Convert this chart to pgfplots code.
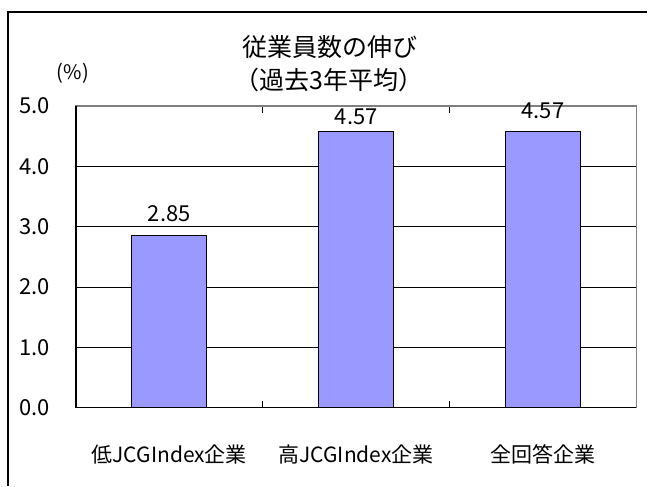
\documentclass[border=0pt]{standalone}
\usepackage{fontspec}
\setmainfont{Noto Sans CJK JP}
\usepackage{pgfplots}
\pgfplotsset{compat=1.18}
\definecolor{barfill}{HTML}{9999FF}
\definecolor{frame}{HTML}{808080}
\begin{document}
\begin{tikzpicture}
\begin{axis}[
  scale only axis,
  width=561bp, height=302bp,
  xmin=-0.5, xmax=2.5, ymin=0, ymax=5,
  clip=false,
  axis line style={draw=frame, line width=1.3bp},
  xtick={0,1,2},
  xticklabels={低JCGIndex企業,高JCGIndex企業,全回答企業},
  major x tick style={draw=none},
  minor xtick={0.5,1.5},
  minor x tick style={black, line width=0.6bp},
  minor tick length=7bp,
  ytick={0,1,2,3,4,5},
  tick align=inside,
  major tick length=7bp,
  y tick style={black, line width=0.8bp},
  ymajorgrids,
  major grid style={black, line width=0.7bp},
  xticklabel style={font=\fontsize{21bp}{24bp}\selectfont, anchor=center, yshift=-47bp},
  yticklabel style={font=\fontsize{22bp}{24bp}\selectfont, anchor=east, inner sep=0pt, xshift=-26bp},
  /pgf/number format/.cd, fixed, fixed zerofill, precision=1, assume math mode=true,
  /pgfplots/.cd,
  bar width=75bp,
]
\addplot[ybar, bar shift=0pt, fill=barfill, draw=black, line width=1.2bp,
  nodes near coords, point meta=explicit symbolic,
  every node near coord/.append style={anchor=center, yshift=22bp, font=\fontsize{22bp}{24bp}\selectfont}]
  coordinates {(0,2.85) [2.85]};
\addplot[ybar, bar shift=0pt, fill=barfill, draw=black, line width=1.2bp,
  nodes near coords, point meta=explicit symbolic,
  every node near coord/.append style={anchor=center, yshift=15bp, font=\fontsize{22bp}{24bp}\selectfont}]
  coordinates {(1,4.57) [4.57]};
\addplot[ybar, bar shift=0pt, fill=barfill, draw=black, line width=1.2bp,
  nodes near coords, point meta=explicit symbolic,
  every node near coord/.append style={anchor=center, yshift=21.5bp, font=\fontsize{22bp}{24bp}\selectfont}]
  coordinates {(2,4.57) [4.57]};
\draw[black, line width=1.3bp] (rel axis cs:0,1) -- (rel axis cs:0,0) -- (rel axis cs:1,0);
\end{axis}
\node[font=\fontsize{25bp}{28bp}\selectfont] at (254bp,361bp) {従業員数の伸び};
\node[font=\fontsize{25bp}{28bp}\selectfont] at (253bp,328bp) {（過去3年平均）};
\node[font=\fontsize{20bp}{24bp}\selectfont] at (-3bp,335bp) {(\%)};
\draw[black, line width=1.2bp] (-68bp,-78bp) -- (-68bp,396bp) -- (572bp,396bp);
\path[use as bounding box] (-76bp,-78bp) rectangle (572bp,408bp);
\end{tikzpicture}
\end{document}
